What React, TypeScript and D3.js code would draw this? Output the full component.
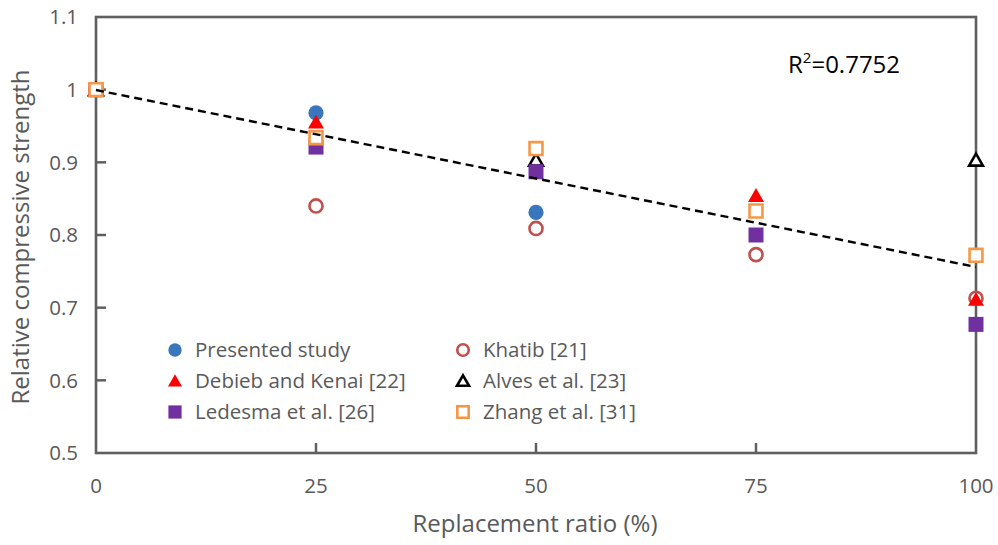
import React from "react";
import * as d3 from "d3";

// Replacement ratio (%) vs relative compressive strength, one array per study
const presentedStudy: [number, number][] = [[0, 1.0], [25, 0.968], [50, 0.831]];
const khatib: [number, number][] = [[0, 1.0], [25, 0.84], [50, 0.809], [75, 0.773], [100, 0.713]];
const debiebKenai: [number, number][] = [[0, 1.0], [25, 0.955], [75, 0.854], [100, 0.711]];
const alves: [number, number][] = [[0, 1.0], [50, 0.903], [100, 0.903]];
const ledesma: [number, number][] = [[0, 1.0], [25, 0.921], [50, 0.887], [75, 0.8], [100, 0.677]];
const zhang: [number, number][] = [[0, 1.0], [25, 0.934], [50, 0.919], [75, 0.833], [100, 0.772]];

const seriesNames = [
  "Presented study",
  "Khatib [21]",
  "Debieb and Kenai [22]",
  "Alves et al. [23]",
  "Ledesma et al. [26]",
  "Zhang et al. [31]",
];

const xTicks = [0, 25, 50, 75, 100];
const yTicks = [0.5, 0.6, 0.7, 0.8, 0.9, 1.0, 1.1];
const yTickLabels = ["0.5", "0.6", "0.7", "0.8", "0.9", "1", "1.1"];

// Linear trend line
const trendIntercept = 0.9995;
const trendSlope = -0.002435;
const rSquaredLabel = "0.7752";

type Marker = "circle" | "triangle" | "square";
interface Style { shape: Marker; color: string; filled: boolean }

const styles: Style[] = [
  { shape: "circle", color: "#3A76BC", filled: true },
  { shape: "circle", color: "#C0504D", filled: false },
  { shape: "triangle", color: "#FF0000", filled: true },
  { shape: "triangle", color: "#000000", filled: false },
  { shape: "square", color: "#7030A0", filled: true },
  { shape: "square", color: "#F79646", filled: false },
];

const seriesData = [presentedStudy, khatib, debiebKenai, alves, ledesma, zhang];

const W = 998;
const H = 545;
const left = 96;
const right = 976;
const top = 17;
const bottom = 453;

const x = d3.scaleLinear().domain([0, 100]).range([left, right]);
const y = d3.scaleLinear().domain([0.5, 1.1]).range([bottom, top]);

const AXIS = "#5F5F5F";
const TEXT = "#595959";
const FONT = "'Open Sans', 'Noto Sans', sans-serif";

function markerPath(shape: Marker, scale: number): string {
  if (shape === "circle") return d3.symbol(d3.symbolCircle, Math.PI * (7.6 * scale) ** 2)()!;
  if (shape === "square") return d3.symbol(d3.symbolSquare, (15 * scale) ** 2)()!;
  const s = 16 * scale;
  return d3.symbol(d3.symbolTriangle, (s * s * Math.sqrt(3)) / 4)()!;
}

function MarkerShape({ st, cx, cy, scale = 1 }: { st: Style; cx: number; cy: number; scale?: number }) {
  const open = !st.filled;
  const dy = st.shape === "triangle" ? 1.5 * scale : 0;
  const sc = open ? 0.86 : 1;
  return (
    <path
      d={markerPath(st.shape, scale * sc)}
      transform={`translate(${cx},${cy + dy})`}
      fill={open ? "#FFFFFF" : st.color}
      stroke={st.color}
      strokeWidth={open ? 2.6 : 0}
    />
  );
}

export default function App() {
  const legendCols = [175, 463];
  const legendRows = [350, 381, 412];
  return (
    <svg
      width={W}
      height={H}
      style={{ position: "absolute", left: 0, top: 0, background: "#FFFFFF" }}
      xmlns="http://www.w3.org/2000/svg"
    >
      <rect x={0} y={0} width={W} height={H} fill="#FFFFFF" />

      {/* ticks inside the frame */}
      {yTicks.slice(1, -1).map((t) => (
        <line key={"yt" + t} x1={left} x2={left + 10} y1={y(t)} y2={y(t)} stroke={AXIS} strokeWidth={2.5} />
      ))}
      {xTicks.slice(1, -1).map((t) => (
        <line key={"xt" + t} x1={x(t)} x2={x(t)} y1={bottom} y2={bottom - 10} stroke={AXIS} strokeWidth={2.5} />
      ))}

      {/* plot frame */}
      <rect x={left} y={top} width={right - left} height={bottom - top} fill="none" stroke={AXIS} strokeWidth={2.6} />

      {/* tick labels */}
      {yTicks.map((t, i) => (
        <text key={"yl" + t} x={78} y={y(t)} dy="0.36em" textAnchor="end" fontFamily={FONT} fontSize={20.5} fill={TEXT}>
          {yTickLabels[i]}
        </text>
      ))}
      {xTicks.map((t) => (
        <text key={"xl" + t} x={x(t)} y={493} textAnchor="middle" fontFamily={FONT} fontSize={20.5} fill={TEXT}>
          {t}
        </text>
      ))}

      {/* axis titles */}
      <text x={535} y={532} textAnchor="middle" fontFamily={FONT} fontSize={24} fill={TEXT}>
        Replacement ratio (%)
      </text>
      <text
        transform={`translate(29,${(bottom + top) / 2 + 2}) rotate(-90)`}
        textAnchor="middle"
        fontFamily={FONT}
        fontSize={24}
        fill={TEXT}
      >
        Relative compressive strength
      </text>

      {/* data markers */}
      {seriesData.map((pts, si) =>
        pts.map(([px, py], pi) => (
          <MarkerShape key={`m${si}-${pi}`} st={styles[si]} cx={x(px)} cy={y(py)} />
        ))
      )}

      {/* trend line */}
      <line
        x1={x(0)}
        y1={y(trendIntercept)}
        x2={x(100)}
        y2={y(trendIntercept + trendSlope * 100)}
        stroke="#000000"
        strokeWidth={2.4}
        strokeDasharray="8,5"
      />

      {/* R² annotation */}
      <text x={788} y={73} fontFamily={FONT} fontSize={24} fill="#000000">
        R<tspan dy={-10} fontSize={15}>2</tspan>
        <tspan dy={10}>={rSquaredLabel}</tspan>
      </text>

      {/* legend */}
      {seriesNames.map((name, i) => {
        const col = i % 2;
        const row = Math.floor(i / 2);
        const mx = legendCols[col];
        const my = legendRows[row];
        return (
          <g key={"lg" + i}>
            <MarkerShape st={styles[i]} cx={mx} cy={my} scale={0.88} />
            <text x={mx + 20} y={my} dy="0.36em" fontFamily={FONT} fontSize={20.5} fill={TEXT}>
              {name}
            </text>
          </g>
        );
      })}
    </svg>
  );
}
